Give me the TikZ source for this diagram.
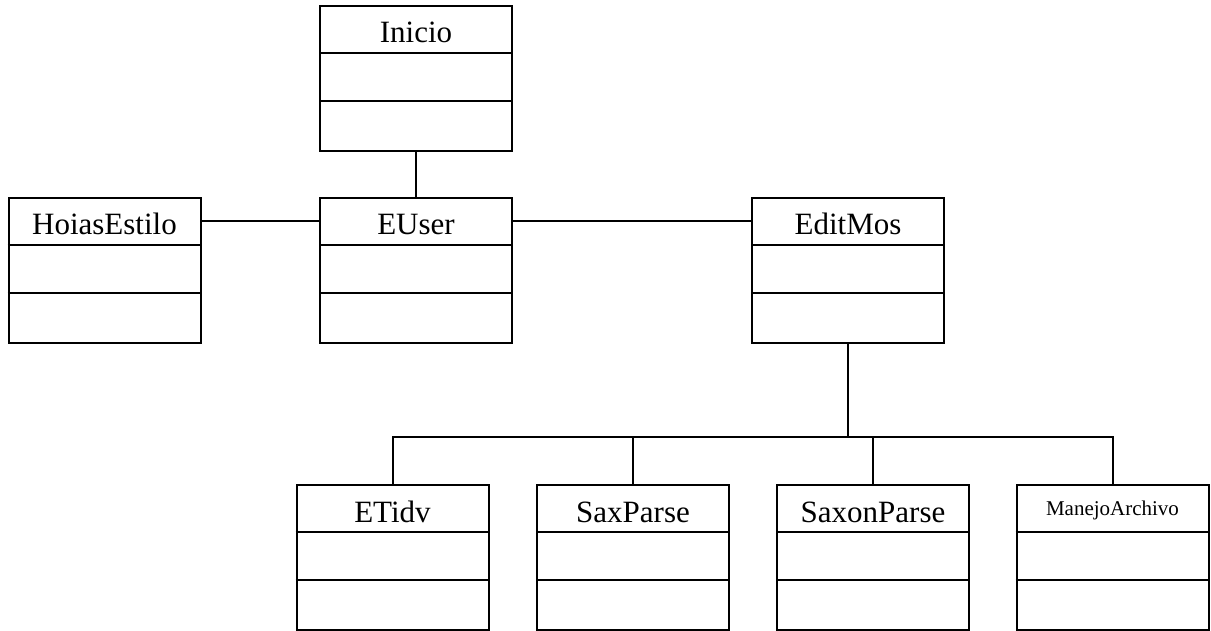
\documentclass[tikz,border=0pt]{standalone}
\usepackage{fontspec}
\setmainfont{Liberation Serif}
\usetikzlibrary{positioning}

\tikzset{
  clase/.style={draw, line width=2pt, minimum width=192pt, minimum height=145pt, inner sep=0pt},
  titulo/.style={anchor=base, inner sep=0pt, font=\fontsize{31}{36}\selectfont},
  enlace/.style={line width=2pt}
}

\begin{document}
\begin{tikzpicture}[x=1pt,y=-1pt]
\useasboundingbox (0,0) rectangle (1211,631);
% clases
\node[clase] (inicio) at (416,78.5) {};
\node[clase] (euser) at (416,270.5) {};
\node[clase] (hojas) at (104.5,270.5) {};
\node[clase] (editmos) at (848,270.5) {};
\node[clase] (etidy) at (392.5,557.5) {};
\node[clase] (saxparse) at (633,557.5) {};
\node[clase] (saxonparse) at (873,557.5) {};
\node[clase] (manejo) at (1112.5,557.5) {};
% compartimentos
\foreach \c in {inicio,euser,hojas,editmos,etidy,saxparse,saxonparse,manejo} {
  \draw[enlace] ([yshift=-48pt]\c.north west) -- ([yshift=-48pt]\c.north east);
  \draw[enlace] ([yshift=-96pt]\c.north west) -- ([yshift=-96pt]\c.north east);
}
% nombres
\node[titulo] (tinicio) at ([yshift=-38pt]inicio.north) {Inicio};
\node[titulo] (teuser) at ([yshift=-38pt]euser.north) {EUser};
\node[titulo] (thojas) at ([yshift=-38pt]hojas.north) {HoiasEstilo};
\node[titulo] (teditmos) at ([yshift=-38pt]editmos.north) {EditMos};
\node[titulo] (tetidy) at ([yshift=-38pt]etidy.north) {ETidv};
\node[titulo] (tsaxparse) at ([yshift=-38pt]saxparse.north) {SaxParse};
\node[titulo] (tsaxonparse) at ([yshift=-38pt]saxonparse.north) {SaxonParse};
\node[titulo, font=\fontsize{21}{25}\selectfont] (tmanejo) at ([yshift=-31pt]manejo.north) {ManejoArchivo};
% relaciones
\draw[enlace] (inicio) -- (euser);
\draw[enlace] ([yshift=-24pt]hojas.north east) -- ([yshift=-24pt]euser.north west);
\draw[enlace] ([yshift=-24pt]euser.north east) -- ([yshift=-24pt]editmos.north west);
\coordinate (bus) at (848,437);
\draw[enlace] (editmos.south) -- (bus);
\draw[enlace] (etidy.north) |- (bus) -| (manejo.north);
\draw[enlace] (saxparse.north) -- (saxparse.north |- bus);
\draw[enlace] (saxonparse.north) -- (saxonparse.north |- bus);
\end{tikzpicture}
\end{document}
